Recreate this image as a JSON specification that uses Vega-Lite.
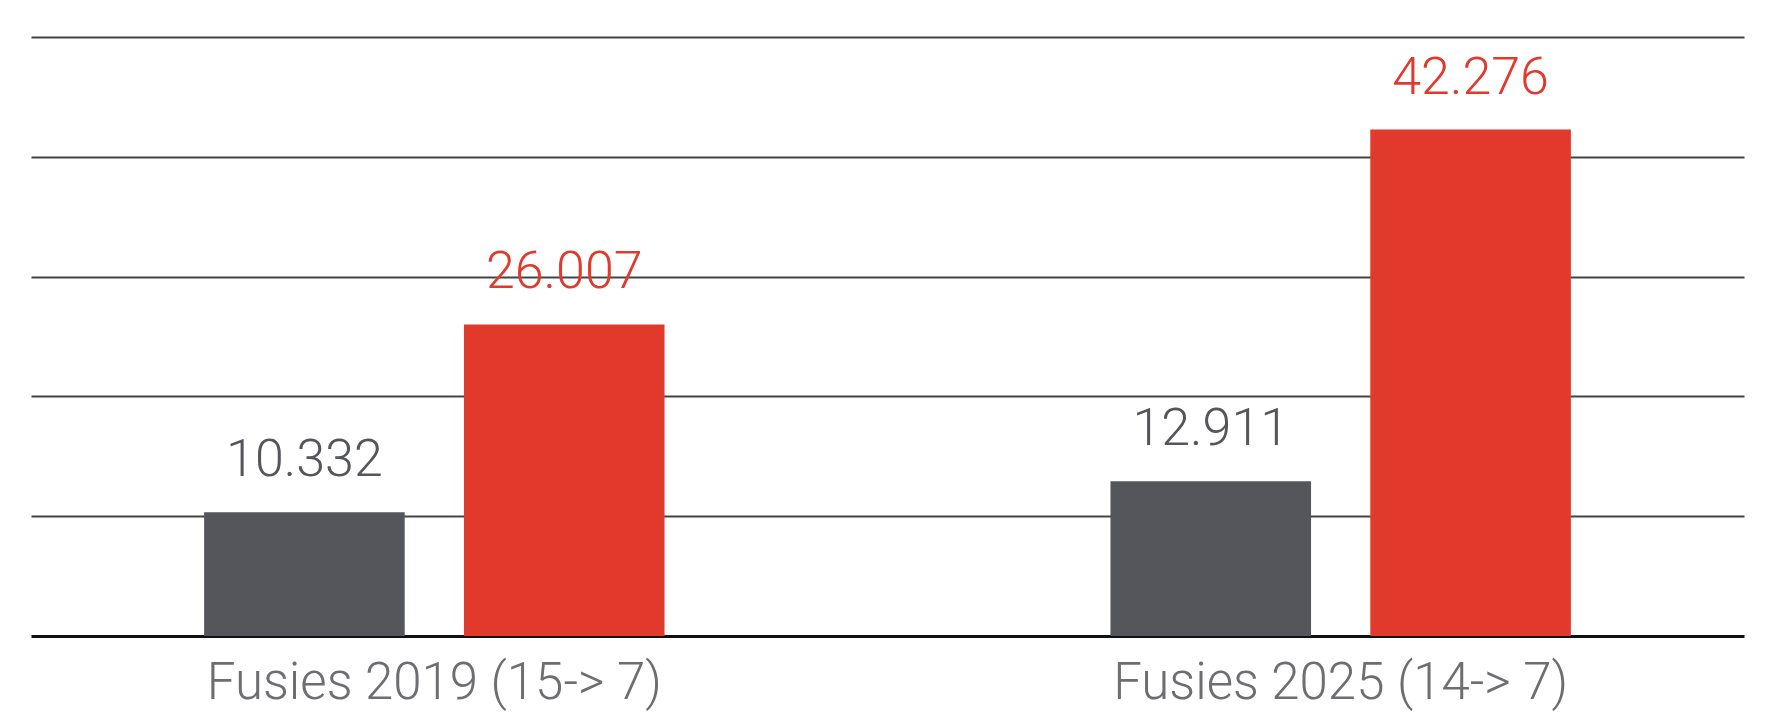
{
  "$schema": "https://vega.github.io/schema/vega-lite/v6.json",
  "autosize": "none",
  "width": 1713,
  "height": 599,
  "padding": {"left": 31, "top": 37, "right": 21, "bottom": 79},
  "background": "white",
  "config": {
    "view": {"stroke": null},
    "font": "Roboto"
  },
  "data": {
    "values": [
      {"groep": "Fusies 2019 (15-> 7)", "reeks": "a", "waarde": 10332, "label": "10.332"},
      {"groep": "Fusies 2019 (15-> 7)", "reeks": "b", "waarde": 26007, "label": "26.007"},
      {"groep": "Fusies 2025 (14-> 7)", "reeks": "a", "waarde": 12911, "label": "12.911"},
      {"groep": "Fusies 2025 (14-> 7)", "reeks": "b", "waarde": 42276, "label": "42.276"}
    ]
  },
  "encoding": {
    "x": {
      "field": "groep",
      "type": "nominal",
      "sort": null,
      "scale": {"paddingInner": 0.492, "paddingOuter": 0.191},
      "axis": {
        "title": null,
        "labelAngle": 0,
        "ticks": false,
        "domain": true,
        "domainColor": "#111111",
        "domainWidth": 3,
        "labelFont": "Roboto",
        "labelFontSize": 51,
        "labelFontWeight": 300,
        "labelLimit": 0,
        "labelColor": "#6d6e71",
        "labelPadding": 22
      }
    },
    "xOffset": {
      "field": "reeks",
      "type": "nominal",
      "scale": {"paddingInner": 0.228, "paddingOuter": 0}
    },
    "y": {
      "field": "waarde",
      "type": "quantitative",
      "scale": {"domain": [0, 50000], "nice": false},
      "axis": {
        "title": null,
        "labels": false,
        "ticks": false,
        "domain": false,
        "grid": true,
        "values": [10000, 20000, 30000, 40000, 50000],
        "gridColor": "#444446",
        "gridWidth": 2
      }
    },
    "color": {
      "field": "reeks",
      "type": "nominal",
      "scale": {"domain": ["a", "b"], "range": ["#54565b", "#e13a2d"]},
      "legend": null
    }
  },
  "layer": [
    {"mark": {"type": "bar"}},
    {
      "mark": {"type": "text", "baseline": "alphabetic", "dy": -36, "fontSize": 52, "fontWeight": 300, "font": "Roboto"},
      "encoding": {
        "text": {"field": "label"},
        "color": {
          "field": "reeks",
          "type": "nominal",
          "scale": {"domain": ["a", "b"], "range": ["#5d5f63", "#e13a2d"]},
          "legend": null
        }
      }
    }
  ]
}
